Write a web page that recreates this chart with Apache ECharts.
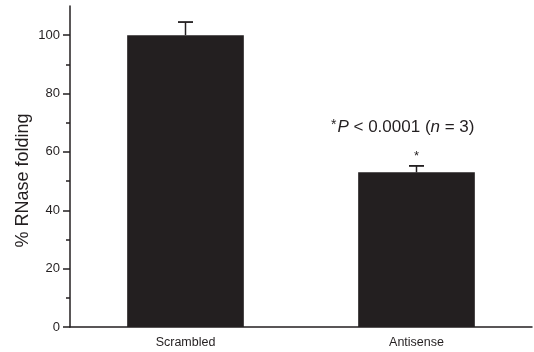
<!DOCTYPE html>
<html><head><meta charset="utf-8">
<script src="https://cdn.jsdelivr.net/npm/echarts@6/dist/echarts.min.js"></script>
<style>html,body{margin:0;padding:0;background:#fff}#c{width:534px;height:352px}</style>
</head><body><div id="c"></div>
<script>
var categories = ['Scrambled', 'Antisense'];
var values = [100, 53];
var errors = [4.5, 2.2];
var stars = ['', '*'];
var majorTicks = [0, 20, 40, 60, 80, 100];
var minorTicks = [10, 30, 50, 70, 90];

var FONT = 'Arial, "Liberation Sans", Helvetica, sans-serif';
var INK = '#231f20';
var chart = echarts.init(document.getElementById('c'), null, {renderer: 'canvas'});

chart.setOption({
  animation: false,
  backgroundColor: '#fff',
  grid: {left: 70, right: 2, top: 6, bottom: 25, containLabel: false},
  xAxis: {
    type: 'category', data: categories,
    axisLine: {lineStyle: {color: INK, width: 1.5}},
    axisTick: {show: false},
    axisLabel: {color: INK, fontFamily: FONT, fontSize: 12.5, margin: 9}
  },
  yAxis: [{
    type: 'value', min: 0, max: 110,
    name: '% RNase folding', nameLocation: 'middle', nameGap: 38, nameRotate: 90,
    nameMoveOverlap: false,
    nameTextStyle: {color: INK, fontFamily: FONT, fontSize: 18, padding: [0, 28, 0, 0]},
    axisLine: {show: true, lineStyle: {color: INK, width: 1.5}},
    axisTick: {show: true, length: 7, customValues: majorTicks, lineStyle: {color: INK, width: 1.5}},
    axisLabel: {color: INK, fontFamily: FONT, fontSize: 13, margin: 10, customValues: majorTicks},
    splitLine: {show: false}
  }, {
    type: 'value', min: 0, max: 110, position: 'left',
    axisLine: {show: false},
    axisTick: {show: true, length: 4, customValues: minorTicks, lineStyle: {color: INK, width: 1.5}},
    axisLabel: {show: false},
    splitLine: {show: false}
  }],
  series: [{
    type: 'bar', data: values, barWidth: '50.5%', yAxisIndex: 0,
    itemStyle: {color: INK}, silent: true
  }, {
    type: 'custom', yAxisIndex: 0, silent: true,
    data: values.map(function (v, i) { return [i, v, errors[i]]; }),
    renderItem: function (params, api) {
      var i = api.value(0), v = api.value(1), e = api.value(2);
      var base = api.coord([i, v]);
      var top = api.coord([i, v + e]);
      var hw = 7.5;
      var children = [
        {type: 'line', shape: {x1: base[0], y1: base[1], x2: top[0], y2: top[1]}, style: {stroke: INK, lineWidth: 1.5}},
        {type: 'line', shape: {x1: top[0] - hw, y1: top[1], x2: top[0] + hw, y2: top[1]}, style: {stroke: INK, lineWidth: 1.8}}
      ];
      var s = stars[params.dataIndex];
      if (s) {
        children.push({type: 'text', style: {text: s, x: top[0], y: top[1] - 3, align: 'center', verticalAlign: 'bottom', fill: INK, font: '13px ' + FONT}});
      }
      return {type: 'group', children: children};
    }
  }],
  graphic: [{
    type: 'text', left: 331, top: 118,
    style: {
      text: '{s|*}{i|P} < 0.0001 ({i|n} = 3)',
      fill: INK, font: '17px ' + FONT,
      rich: {
        i: {fontStyle: 'italic', fontSize: 17, fontFamily: FONT, fill: INK},
        s: {fontSize: 14, fontFamily: FONT, fill: INK, verticalAlign: 'top', padding: [0, 1, 5, 0]}
      }
    }
  }]
});
</script></body></html>
